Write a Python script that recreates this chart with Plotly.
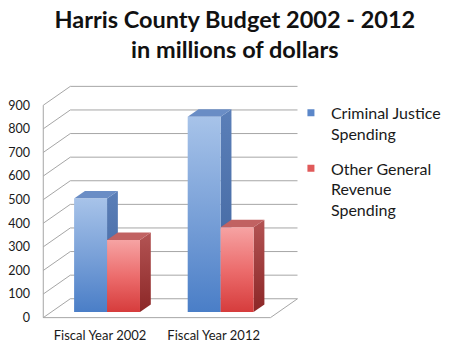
import plotly.graph_objects as go

# ---------------- data ----------------
categories = ["Fiscal Year 2002", "Fiscal Year 2012"]
series_names = ["Criminal Justice<br>Spending", "Other General<br>Revenue<br>Spending"]
criminal_justice = [481, 827]
other_general = [305, 359]
y_ticks = [0, 100, 200, 300, 400, 500, 600, 700, 800, 900]
title_text = "Harris County Budget 2002 - 2012<br>in millions of dollars"

# ---------------- style / 3D projection params ----------------
FONT = "Lato"
DX, DY = 0.238, 80.0          # depth of the chart box (category units, value units)
F0, F1 = 0.30, 0.70           # front / back depth fraction of bars
BAR_OFF, BAR_W = 0.20, 0.29   # bar start within category, bar width
GRID = "#a6a6a6"

styles = [
    dict(front=[[0, "#4a7ec7"], [0.5, "#7aa1d8"], [1, "#a7c3e9"]],
         top="#6a8dc5",
         side=[[0, "#3d629c"], [1, "#5b7fb8"]],
         legend="#5b87c9"),
    dict(front=[[0, "#d63c3c"], [0.5, "#ec6d6d"], [1, "#f6a3a3"]],
         top="#c16262",
         side=[[0, "#8c2727"], [1, "#b35454"]],
         legend="#e05a5a"),
]
series_values = [criminal_justice, other_general]

fig = go.Figure()

# ---------------- walls / floor / gridlines ----------------
gx, gy = [], []
n = len(categories)
for v in y_ticks:
    gx += [DX, n + DX, None, 0, DX, None]
    gy += [v + DY, v + DY, None, v, v + DY, None]
gx += [0, 0, None, 0, n, n + DX, None]
gy += [y_ticks[0], y_ticks[-1], None, 0, 0, DY, None]
fig.add_trace(go.Scatter(x=gx, y=gy, mode="lines", line=dict(color=GRID, width=1),
                         hoverinfo="skip", showlegend=False))

# ---------------- 3D bars ----------------
for i in range(n):
    for s, vals in enumerate(series_values):
        v = vals[i]
        st = styles[s]
        x0 = i + BAR_OFF + s * BAR_W
        x1 = x0 + BAR_W
        fx0, fx1 = x0 + F0 * DX, x1 + F0 * DX
        bx0, bx1 = x0 + F1 * DX, x1 + F1 * DX
        fy, by = F0 * DY, F1 * DY
        # side face
        fig.add_trace(go.Scatter(
            x=[fx1, bx1, bx1, fx1, fx1], y=[fy, by, v + by, v + fy, fy],
            fill="toself", mode="lines", line=dict(width=0),
            fillgradient=dict(type="vertical", colorscale=st["side"]),
            hoverinfo="skip", showlegend=False))
        # top face
        fig.add_trace(go.Scatter(
            x=[fx0, fx1, bx1, bx0, fx0], y=[v + fy, v + fy, v + by, v + by, v + fy],
            fill="toself", mode="lines", line=dict(width=0), fillcolor=st["top"],
            hoverinfo="skip", showlegend=False))
        # front face
        fig.add_trace(go.Scatter(
            x=[fx0, fx1, fx1, fx0, fx0], y=[fy, fy, v + fy, v + fy, fy],
            fill="toself", mode="lines", line=dict(width=0),
            fillgradient=dict(type="vertical", colorscale=st["front"]),
            hoverinfo="skip", showlegend=False))

# ---------------- legend entries ----------------
for s, name in enumerate(series_names):
    fig.add_trace(go.Scatter(x=[None], y=[None], mode="markers", name=name,
                             legendgroup=f"g{s}",
                             marker=dict(symbol="square", size=7, color=styles[s]["legend"])))

fig.update_layout(
    width=456, height=355,
    margin=dict(l=41, r=156, t=84, b=35, autoexpand=False),
    paper_bgcolor="white", plot_bgcolor="white",
    font=dict(family=FONT, color="#1a1a1a"),
    title=dict(text=title_text, x=0.515, xanchor="center", y=0.922, yanchor="top",
               font=dict(family=FONT, size=23.5, color="#111111", weight="bold")),
    xaxis=dict(range=[-0.02, 2.26], tickvals=[0.5, 1.5], ticktext=categories,
               showgrid=False, zeroline=False, showline=False, ticks="",
               automargin=False, ticklabelstandoff=6,
               tickfont=dict(size=13, color="#1a1a1a"), fixedrange=True),
    yaxis=dict(range=[-10, 990], tickvals=y_ticks, showgrid=False, zeroline=False,
               showline=False, ticks="", automargin=False,
               tickfont=dict(size=12.5, color="#1a1a1a"),
               ticklabelstandoff=10, fixedrange=True),
    legend=dict(x=0.965, xanchor="left", y=0.95, yanchor="top", valign="top",
                font=dict(size=16, color="#1a1a1a"), tracegroupgap=11,
                bgcolor="rgba(0,0,0,0)"),
    showlegend=True,
)

fig.write_html("out.html")
